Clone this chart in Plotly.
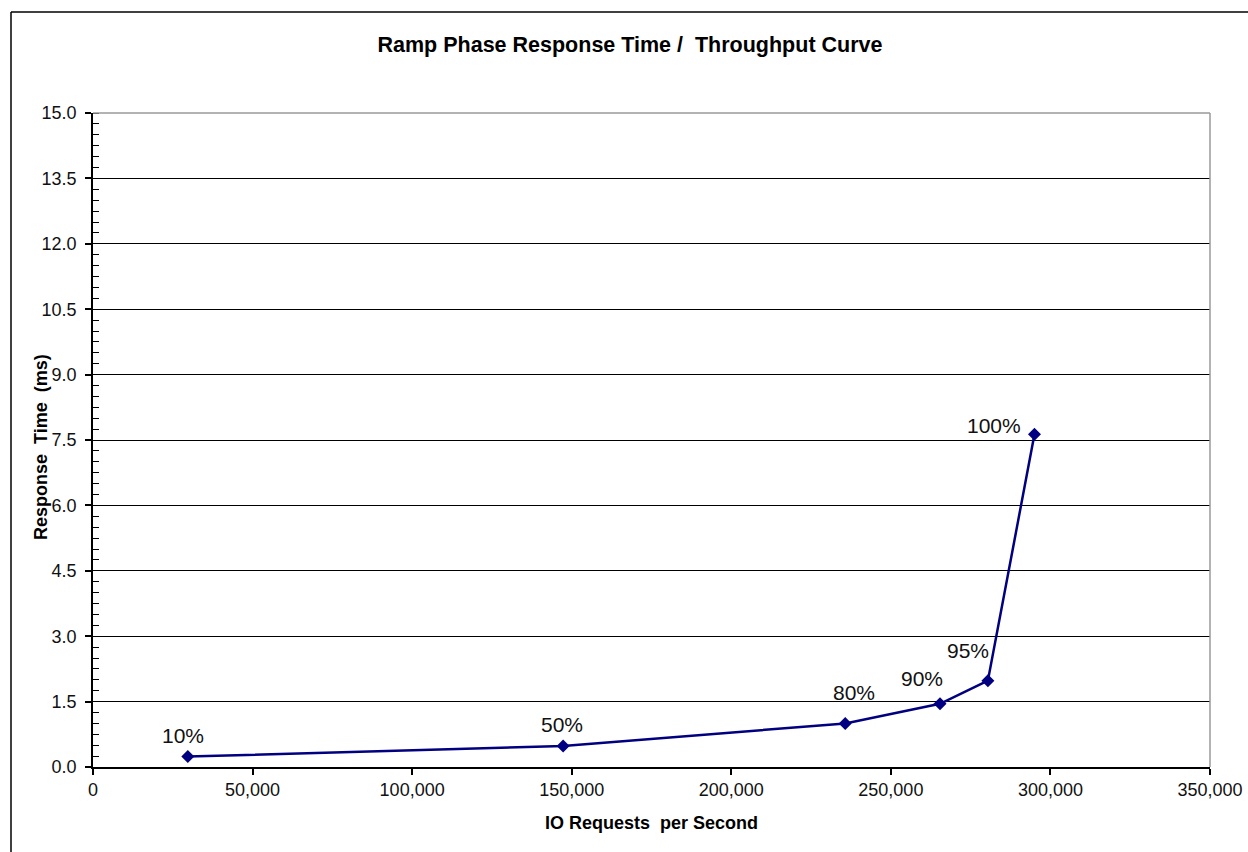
import plotly.graph_objects as go

# Data
iops = [29700, 147300, 235700, 265400, 280400, 295000]
resp_ms = [0.24, 0.48, 1.00, 1.45, 1.98, 7.63]
load_labels = ["10%", "50%", "80%", "90%", "95%", "100%"]
label_shift_x = [-5, -1, 9, -18, -20, -40]
label_shift_y = [21, 22, 31, 25, 30, 9]

x_ticks = [0, 50000, 100000, 150000, 200000, 250000, 300000, 350000]
y_ticks = [0.0, 1.5, 3.0, 4.5, 6.0, 7.5, 9.0, 10.5, 12.0, 13.5, 15.0]

FONT = "Liberation Sans, Arial, sans-serif"
NAVY = "#000080"

fig = go.Figure()
fig.add_trace(go.Scatter(
    x=iops, y=resp_ms, mode="lines+markers",
    line=dict(color=NAVY, width=2.5),
    marker=dict(symbol="diamond", size=10, color=NAVY),
    hoverinfo="x+y", showlegend=False,
))

annotations = []
for xv, yv, t, sx, sy in zip(iops, resp_ms, load_labels, label_shift_x, label_shift_y):
    annotations.append(dict(
        x=xv, y=yv, xref="x", yref="y", text=t, showarrow=False,
        xshift=sx, yshift=sy, xanchor="center", yanchor="middle",
        font=dict(family=FONT, size=21, color="#111111"),
    ))

# y-axis title (placed like the reference, overlapping the tick-label column)
annotations.append(dict(
    text="<b>Response  Time  (ms)</b>", textangle=-90, showarrow=False,
    xref="paper", yref="paper", x=(41 - 93) / 1117, y=(767 - 447) / 654,
    xanchor="center", yanchor="middle",
    font=dict(family=FONT, size=18, color="black"),
))

fig.update_layout(
    width=1248, height=852, autosize=False,
    margin=dict(l=93, r=38, t=113, b=85, pad=0),
    paper_bgcolor="white", plot_bgcolor="white",
    font=dict(family=FONT, color="#111111"),
    title=dict(
        text="<b>Ramp Phase Response Time /  Throughput Curve</b>",
        x=630 / 1248, xref="container", xanchor="center",
        y=1 - 44 / 852, yref="container", yanchor="middle",
        font=dict(family=FONT, size=21.5, color="black"),
    ),
    annotations=annotations,
    shapes=[
        # outer chart frame (left and top edges visible)
        dict(type="line", xref="paper", yref="paper",
             x0=(11 - 93) / 1117, x1=(1260 - 93) / 1117,
             y0=(767 - 12) / 654, y1=(767 - 12) / 654,
             line=dict(color="black", width=1.5)),
        dict(type="line", xref="paper", yref="paper",
             x0=(11 - 93) / 1117, x1=(11 - 93) / 1117,
             y0=(767 - 12) / 654, y1=(767 - 870) / 654,
             line=dict(color="black", width=1.5)),
        # plot-area border, top and right (gray)
        dict(type="line", xref="paper", yref="paper", x0=0, x1=1, y0=1, y1=1,
             line=dict(color="#9a9a9a", width=1.5), layer="above"),
        dict(type="line", xref="paper", yref="paper", x0=1, x1=1, y0=0, y1=1,
             line=dict(color="#9a9a9a", width=1.5), layer="above"),
    ],
)

fig.update_xaxes(
    range=[0, 350000], tickvals=x_ticks, tickformat=",d",
    automargin=False,
    showgrid=False, zeroline=False,
    showline=True, linecolor="black", linewidth=1.5,
    ticks="outside", ticklen=6, tickcolor="black", tickwidth=1.5,
    tickfont=dict(family=FONT, size=18, color="#111111"),
    ticklabelstandoff=0,
    title=dict(text="<b>IO Requests  per Second</b>", standoff=17,
               font=dict(family=FONT, size=18, color="black")),
)
fig.update_yaxes(
    range=[0, 15], tickvals=y_ticks, tickformat=".1f",
    automargin=False,
    showgrid=True, gridcolor="black", gridwidth=1.3,
    zeroline=False,
    showline=True, linecolor="black", linewidth=1.5,
    ticks="outside", ticklen=6, tickcolor="black", tickwidth=1.5,
    minor=dict(dtick=0.25, ticks="inside", ticklen=6, tickcolor="black",
               tickwidth=1.3, showgrid=False),
    tickfont=dict(family=FONT, size=18, color="#111111"),
    ticklabelstandoff=5,
)

fig.write_html(
    "out.html",
    config={"displayModeBar": False, "responsive": False},
    post_script="document.body.style.margin='0';document.body.style.overflow='hidden';",
)
